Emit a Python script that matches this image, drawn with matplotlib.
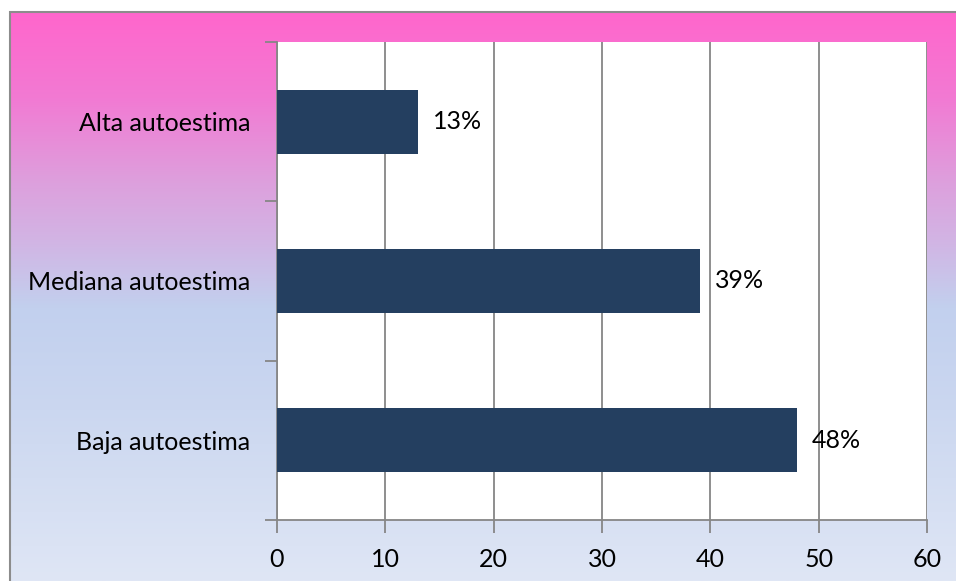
import matplotlib.pyplot as plt
import numpy as np
from matplotlib.colors import LinearSegmentedColormap
from matplotlib.patches import Rectangle

categories = ["Baja autoestima", "Mediana autoestima", "Alta autoestima"]
values = [48, 39, 13]
labels = ["48%", "39%", "13%"]
x_ticks = [0, 10, 20, 30, 40, 50, 60]

W, H = 956, 581
plt.rcParams['font.family'] = ['Lato', 'DejaVu Sans']
FS = 18

fig = plt.figure(figsize=(W / 100, H / 100), dpi=100)
fig.patch.set_facecolor("white")

# gradient background of the chart area
bg = fig.add_axes([10 / W, 0, 1 - 10 / W, 1 - 12 / H], zorder=0)
grad = LinearSegmentedColormap.from_list(
    "bg", [(0.0, "#ff66cc"), (0.15, "#f27ad3"), (0.30, "#dda0dd"),
           (0.40, "#d2b4e4"), (0.52, "#c2d0ee"), (0.70, "#cbd7f0"),
           (1.0, "#dfe6f5")])
bg.imshow(np.linspace(0, 1, 256).reshape(-1, 1), aspect="auto", cmap=grad,
          extent=[0, 1, 0, 1])
bg.set_axis_off()
fig.patches.append(Rectangle((10 / W, -0.01), 1.0, 1 - 12 / H + 0.01,
                             transform=fig.transFigure, fill=False,
                             edgecolor="#8c8c8c", linewidth=1.5, zorder=1))

ax = fig.add_axes([277 / W, (H - 520) / H, 650 / W, 478 / H], zorder=2)
ax.set_facecolor("white")
y = np.arange(len(categories))
ax.barh(y, values, height=0.4, color="#243f60", zorder=3)
for yi, v, lab in zip(y, values, labels):
    ax.text(v + 1.4, yi, lab, va="center", ha="left", fontsize=FS, zorder=4)

ax.set_xlim(0, 60)
ax.set_ylim(-0.5, 2.5)
ax.set_xticks(x_ticks)
ax.set_yticks(y)
ax.set_yticklabels(categories, fontsize=FS)
ax.set_yticks([-0.5, 0.5, 1.5, 2.5], minor=True)
ax.tick_params(axis="y", which="major", length=0, pad=19)
ax.tick_params(axis="y", which="minor", length=9, color="#868686", width=1.3)
ax.tick_params(axis="x", length=9, color="#868686", width=1.3, labelsize=FS, pad=11)
ax.xaxis.grid(True, color="#868686", linewidth=1.3, zorder=1)
ax.set_axisbelow(True)
for s in ["top", "right"]:
    ax.spines[s].set_visible(False)
for s in ["left", "bottom"]:
    ax.spines[s].set_color("#868686")
    ax.spines[s].set_linewidth(1.3)

fig.savefig("out.png", dpi=100)
